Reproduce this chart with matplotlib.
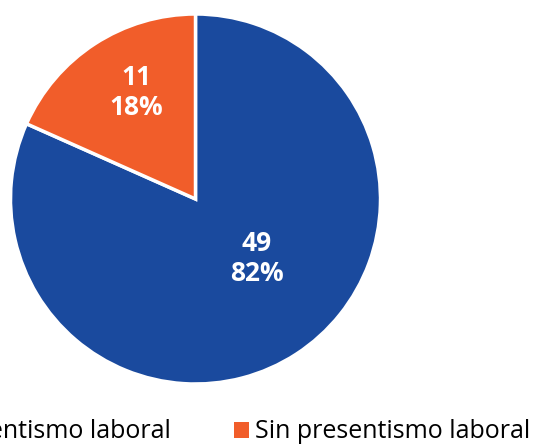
import matplotlib
matplotlib.use("Agg")
import matplotlib.pyplot as plt
from matplotlib.patches import Patch
import numpy as np

labels = ["Con presentismo laboral", "Sin presentismo laboral"]
counts = [49, 11]
colors = ["#1a4a9e", "#f15d2a"]

plt.rcParams['font.family'] = ['Open Sans', 'DejaVu Sans']

W, H = 544, 447
cx, cy, R = 195.5, 199.0, 185.0

fig = plt.figure(figsize=(W / 100, H / 100), dpi=100)
ax = fig.add_axes([0, 0, 1, 1])

wedges, _ = ax.pie(counts, colors=colors, startangle=90, counterclock=False,
                   radius=1.0, wedgeprops=dict(edgecolor='white', linewidth=2.5))

# place pie in the figure like the reference (pixel based limits)
ax.set_xlim(-cx / R, (W - cx) / R)
ax.set_ylim(-(H - cy) / R, cy / R)
ax.set_aspect('equal')
ax.axis('off')

# label spots inside the wedges (angle in degrees, radius fraction)
label_spot = [(-44, 0.46), (119, 0.66)]
total = sum(counts)
for n, (a, r) in zip(counts, label_spot):
    ang = np.deg2rad(a)
    ax.text(r * np.cos(ang), r * np.sin(ang), "%d\n%d%%" % (n, round(100 * n / total)),
            ha='center', va='center', color='white', fontsize=19, fontweight='bold',
            linespacing=1.15)

handles = [Patch(facecolor=c, edgecolor='none') for c in colors]
leg = fig.legend(handles, labels, ncol=2, loc='center right',
                 bbox_to_anchor=(530 / W, 1 - 432 / H), frameon=False,
                 fontsize=18, handlelength=0.6, handleheight=0.6,
                 handletextpad=0.25, columnspacing=2.5, borderpad=0, borderaxespad=0)

fig.savefig("out.png", dpi=100)
